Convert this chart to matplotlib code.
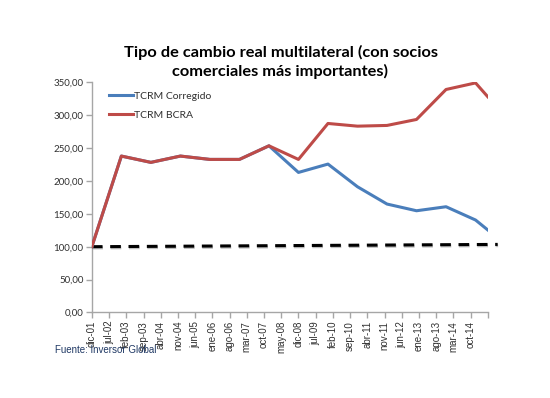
import matplotlib
matplotlib.use('Agg')
import matplotlib.pyplot as plt
import matplotlib.patheffects as pe

# meses desde dic-01
meses = [0, 12, 24, 36, 48, 60, 72, 84, 96, 108, 120, 132, 144, 156, 161]
tcrm_bcra = [100.0, 237.9, 228.3, 237.9, 232.8, 232.8, 253.5, 232.8, 287.5,
             283.4, 284.5, 293.6, 339.2, 349.2, 328.0]
tcrm_corregido = [100.0, 237.9, 228.3, 237.9, 232.8, 232.8, 253.5, 213.0, 225.7,
                  191.2, 164.9, 154.7, 160.8, 140.6, 125.4]
base_x = [0, 165]
base_y = [100.0, 103.5]

etiquetas = ['dic-01', 'jul-02', 'feb-03', 'sep-03', 'abr-04', 'nov-04', 'jun-05',
             'ene-06', 'ago-06', 'mar-07', 'oct-07', 'may-08', 'dic-08', 'jul-09',
             'feb-10', 'sep-10', 'abr-11', 'nov-11', 'jun-12', 'ene-13', 'ago-13',
             'mar-14', 'oct-14']

fig = plt.figure(figsize=(5.5, 3.98), dpi=100)
ax = fig.add_axes([0.167, 0.215, 0.72, 0.578])

ax.plot(base_x, base_y, color='black', lw=2.2, linestyle=(0, (3.5, 2.5)),
        clip_on=False, zorder=2,
        path_effects=[pe.SimpleLineShadow(offset=(0.3, -0.9), alpha=0.25), pe.Normal()])
ax.plot(meses, tcrm_corregido, color='#4A7EBB', lw=2.2, label='TCRM Corregido', zorder=3)
ax.plot(meses, tcrm_bcra, color='#BE4B48', lw=2.2, label='TCRM BCRA', zorder=4)

ax.set_xlim(0, 161)
ax.set_ylim(0, 350)
ax.set_yticks(range(0, 351, 50))
ax.set_yticklabels(['%d,00' % v for v in range(0, 351, 50)],
                   fontsize=7, color='#404040', family='Lato')
ax.set_xticks([i * 7 for i in range(len(etiquetas))] + [161])
ax.set_xticklabels(etiquetas + [''], rotation=90, fontsize=7,
                   family='Liberation Sans', color='#202020')

for s in ['top', 'right']:
    ax.spines[s].set_visible(False)
for s in ['left', 'bottom']:
    ax.spines[s].set_color('#A6A6A6')
    ax.spines[s].set_linewidth(1.0)
ax.tick_params(axis='both', colors='#A6A6A6', length=4, width=1, pad=2,
               labelcolor='#303030')

leg = ax.legend(loc='upper left', bbox_to_anchor=(0.02, 1.0), frameon=False,
                handlelength=2.3, handletextpad=0.1, labelspacing=0.9,
                prop={'family': 'Lato', 'size': 7.5})
for t in leg.get_texts():
    t.set_color('#303030')

fig.text(0.51, 0.845, 'Tipo de cambio real multilateral (con socios\ncomerciales más importantes)',
         ha='center', va='center', fontsize=11.8, fontweight='bold',
         family='Lato', linespacing=1.35)
fig.text(0.1, 0.12, 'Fuente: Inversor Global', fontsize=7,
         family='Liberation Sans', color='#1F3864', va='center')

fig.savefig('out.png', dpi=100)
